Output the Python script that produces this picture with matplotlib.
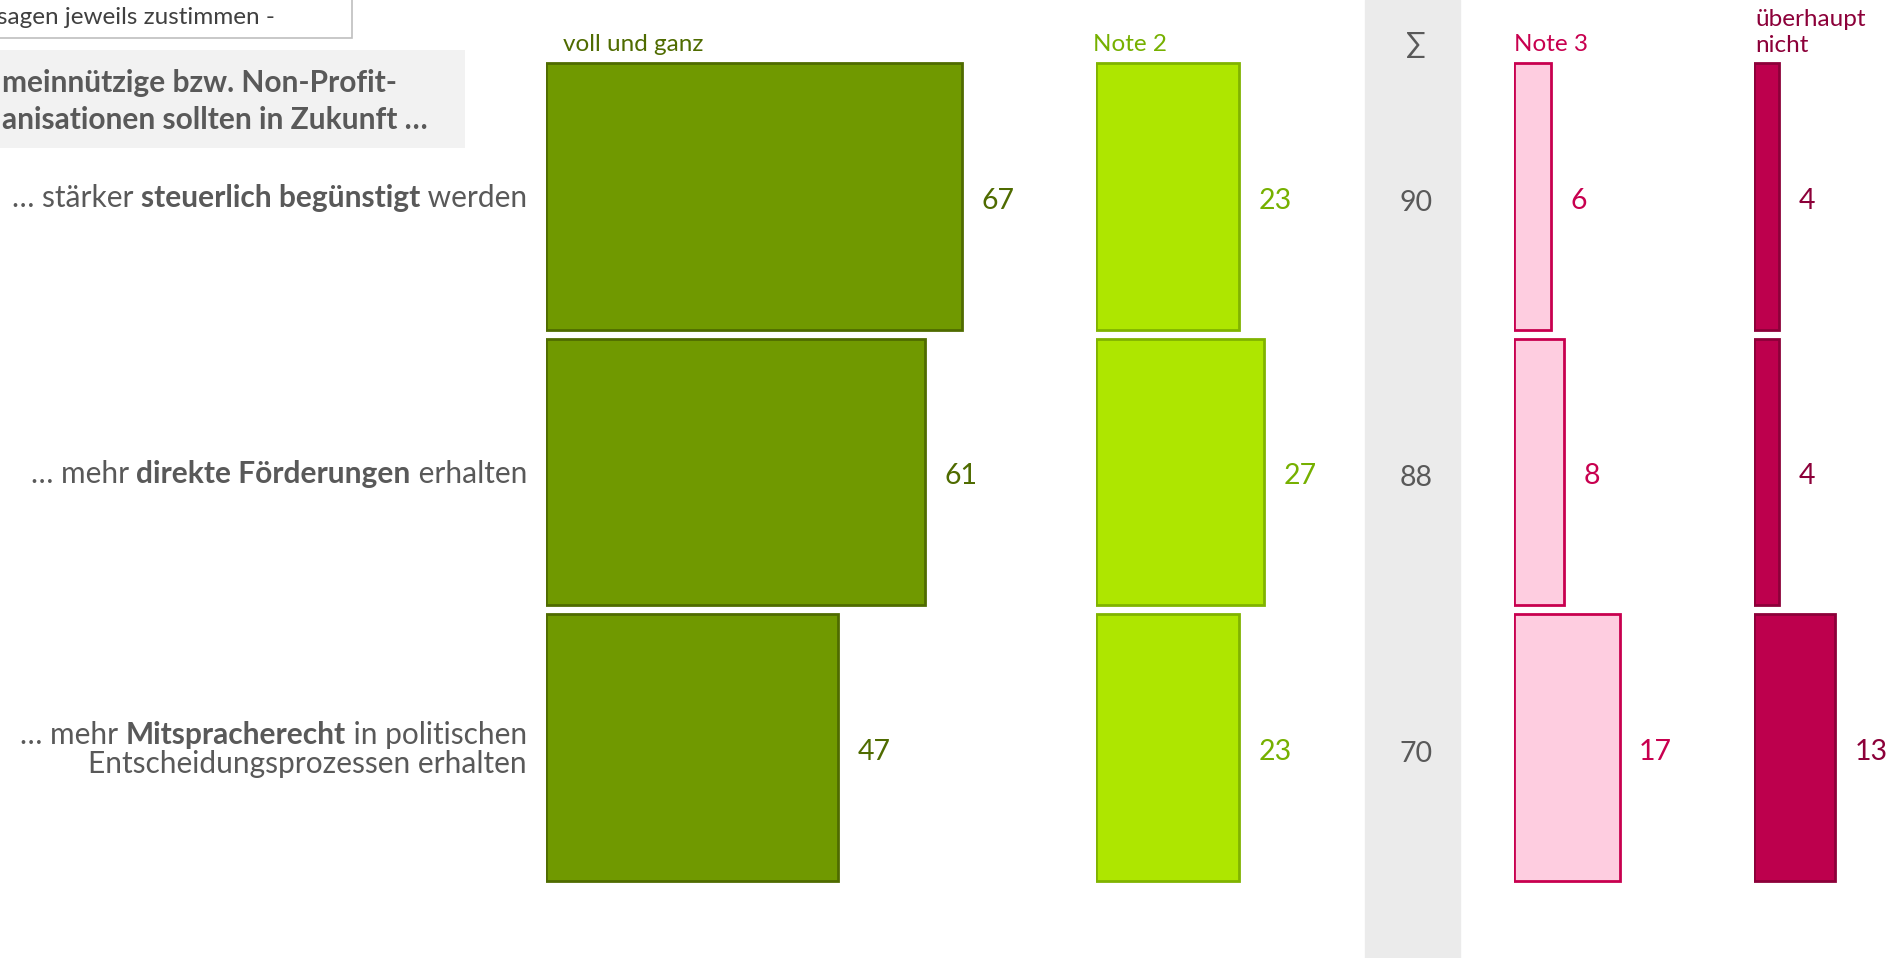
import numpy as np
import matplotlib.pyplot as plt
import matplotlib.transforms as mtransforms
from matplotlib.patches import Rectangle

plt.rcParams['font.family'] = ['Lato', 'DejaVu Sans']

# Daten (Prozent)
voll_und_ganz = [67, 61, 47]
note_2 = [23, 27, 23]
summe = [90, 88, 70]
note_3 = [6, 8, 17]
ueberhaupt_nicht = [4, 4, 13]

# Aussagen: Zeilen aus (Text, fett)
aussagen = [
    [[('… stärker ', False), ('steuerlich begünstigt', True), (' werden', False)]],
    [[('… mehr ', False), ('direkte Förderungen', True), (' erhalten', False)]],
    [[('… mehr ', False), ('Mitspracherecht', True), (' in politischen', False)],
     [('Entscheidungsprozessen erhalten', False)]],
]

titel_zeilen = ['meinnützige bzw. Non-Profit-', 'anisationen sollten in Zukunft …']
hinweis = 'sagen jeweils zustimmen -'

# Spalten: Kopf, Werte, Füllung, Rand, Schriftfarbe, Start (px), Ende (px), Kopf-x (px)
spalten = [
    ('voll und ganz', voll_und_ganz, '#709900', '#4f6b00', '#4f6b00', 546, 1090, 563),
    ('Note 2', note_2, '#aee600', '#80b300', '#76b000', 1096, 1360, 1093),
    ('Note 3', note_3, '#fecde0', '#c8004f', '#c8004f', 1514, 1750, 1514),
    ('überhaupt\nnicht', ueberhaupt_nicht, '#bd004d', '#8c0039', '#8c0039', 1754, 1898, 1755),
]

W, H = 1898, 958
PX = 6.215            # Pixel pro Prozentpunkt
ax_top, ax_bot = 58.75, 885.25
grau = '#595959'
fs = 21.5
fs_wert = 20.5

fig = plt.figure(figsize=(W / 100, H / 100), dpi=100)

# Hintergrund-Achse in Pixelkoordinaten
bg = fig.add_axes([0, 0, 1, 1])
bg.set_xlim(0, W)
bg.set_ylim(H, 0)
bg.axis('off')

bg.axvspan(1365, 1460, color='#ebebeb', zorder=0)
bg.add_patch(Rectangle((-3, -3), 355, 41, facecolor='white', edgecolor='#bfbfbf', lw=1.2))
bg.text(275, 17, hinweis, ha='right', va='center', fontsize=17.5, color='#404040')
bg.add_patch(Rectangle((0, 50), 465, 98, facecolor='#f2f2f2', edgecolor='none'))
bg.text(2, 83, titel_zeilen[0], ha='left', va='center', fontsize=fs,
        fontweight='bold', color=grau)
bg.text(2, 120, titel_zeilen[1], ha='left', va='center', fontsize=fs,
        fontweight='bold', color=grau)


def zeilen_achse(x0, x1):
    ax = fig.add_axes([x0 / W, 1 - ax_bot / H, (x1 - x0) / W, (ax_bot - ax_top) / H])
    ax.set_xlim(0, (x1 - x0) / PX)
    ax.set_ylim(2.5, -0.5)
    ax.axis('off')
    return ax


def rich_line(ax, x, y, parts, dy=0, **kw):
    r = fig.canvas.get_renderer()
    dx = 0
    for txt, bold in reversed(parts):
        tr = mtransforms.offset_copy(ax.transData, fig=fig, x=-dx, y=dy, units='dots')
        t = ax.text(x, y, txt, transform=tr, ha='right', va='baseline',
                    fontweight='bold' if bold else 'normal', **kw)
        dx += t.get_window_extent(r).width


rows = np.arange(len(voll_und_ganz))

# Aussagen links
ax_lab = fig.add_axes([0, 1 - ax_bot / H, 527 / W, (ax_bot - ax_top) / H])
ax_lab.set_xlim(0, 1)
ax_lab.set_ylim(2.5, -0.5)
ax_lab.axis('off')
line_px = 29
for i, zeilen in enumerate(aussagen):
    n = len(zeilen)
    for k, parts in enumerate(zeilen):
        dy = -((k - (n - 1) / 2) * line_px + 10.5)
        rich_line(ax_lab, 1.0, i, parts, dy=dy, fontsize=fs, color=grau)

# Balken
for kopf, werte, fill, edge, col, x0, x1, kx in spalten:
    ax = zeilen_achse(x0, x1)
    ax.barh(rows, werte, height=0.967, color=fill, edgecolor=edge, linewidth=2)
    for i, v in enumerate(werte):
        ax.annotate(str(v), xy=(v, i), xytext=(14, -3), textcoords='offset points',
                    ha='left', va='center', fontsize=fs_wert, color=col,
                    annotation_clip=False)
    bg.text(kx, 32.5 if '\n' in kopf else 44, kopf, ha='left', va='center',
            fontsize=17.5, color=col, linespacing=1.3)

# Summe
ax_sum = zeilen_achse(1365, 1460)
ax_sum.set_xlim(0, 1)
bg.text(1416, 45, '∑', ha='center', va='center', fontsize=21, color=grau)
tr_sum = mtransforms.offset_copy(ax_sum.transData, fig=fig, x=4, y=-6, units='dots')
for i, v in enumerate(summe):
    ax_sum.text(0.5, i, str(v), transform=tr_sum, ha='center', va='center',
                fontsize=fs_wert, color=grau)

fig.savefig('out.png', dpi=100)
